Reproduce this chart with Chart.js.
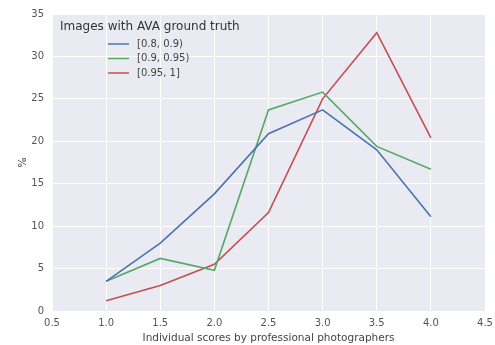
<!DOCTYPE html>
<html><head><meta charset="utf-8">
<script src="https://cdn.jsdelivr.net/npm/chart.js@4/dist/chart.umd.min.js"></script>
<style>html,body{margin:0;padding:0;background:#fff}#wrap{width:495px;height:345px}</style>
</head><body><div id="wrap"><canvas id="c" width="495" height="345"></canvas></div>
<script>
const scores = [1.0, 1.5, 2.0, 2.5, 3.0, 3.5, 4.0];
const seriesLabels = ['[0.8, 0.9)', '[0.9, 0.95)', '[0.95, 1]'];
const blueVals = [3.5, 8.0, 13.8, 20.9, 23.7, 19.0, 11.1];
const greenVals = [3.5, 6.2, 4.8, 23.7, 25.8, 19.4, 16.7];
const redVals = [1.2, 3.0, 5.5, 11.6, 25.0, 32.8, 20.4];
const legendTitle = 'Images with AVA ground truth';
const xTitle = 'Individual scores by professional photographers';
const yTitle = '%';

const colors = ['#4C72B0', '#55A868', '#C44E52'];
const FONT = 'DejaVu Sans';
const toPts = v => scores.map((x, i) => ({x: x, y: v[i]}));

const bgPlugin = {
  id: 'bg',
  beforeDraw(chart) {
    const {ctx, chartArea: a} = chart;
    ctx.save(); ctx.fillStyle = '#EAEAF2';
    ctx.fillRect(a.left, a.top, a.right - a.left, a.bottom - a.top);
    ctx.restore();
  }
};
const legendPlugin = {
  id: 'customLegend',
  afterDatasetsDraw(chart) {
    const {ctx, chartArea: a} = chart;
    ctx.save();
    ctx.fillStyle = '#333';
    ctx.font = '12px ' + FONT;
    ctx.textBaseline = 'middle';
    ctx.fillText(legendTitle, a.left + 8, a.top + 13);
    ctx.font = '10px ' + FONT;
    chart.data.datasets.forEach((ds, i) => {
      const y = a.top + 30 + i * 14.5;
      ctx.strokeStyle = ds.borderColor; ctx.lineWidth = 1.5;
      ctx.beginPath(); ctx.moveTo(a.left + 56, y); ctx.lineTo(a.left + 77, y); ctx.stroke();
      ctx.fillStyle = '#444';
      ctx.fillText(ds.label, a.left + 85, y);
    });
    ctx.restore();
  }
};

new Chart(document.getElementById('c'), {
  type: 'line',
  data: {
    datasets: [blueVals, greenVals, redVals].map((v, i) => ({
      label: seriesLabels[i], data: toPts(v), borderColor: colors[i],
      backgroundColor: colors[i], borderWidth: 1.6, pointRadius: 0, tension: 0, fill: false
    }))
  },
  options: {
    responsive: false, animation: false,
    layout: {padding: {top: 12, right: 0, left: 0, bottom: 0}},
    plugins: {legend: {display: false}, tooltip: {enabled: false}},
    scales: {
      x: {
        type: 'linear', min: 0.5, max: 4.5,
        border: {display: false},
        grid: {color: '#ffffff', lineWidth: 1, drawTicks: false},
        ticks: {stepSize: 0.5, padding: 6, color: '#555', font: {family: FONT, size: 10},
          callback: v => Number(v).toFixed(1)},
        title: {display: true, text: xTitle, color: '#444', font: {family: FONT, size: 10.5}, padding: {top: 2, bottom: 0}},
        afterFit(s) { s.height = 34; s.paddingRight = 10; }
      },
      y: {
        min: 0, max: 35,
        border: {display: false},
        grid: {color: '#ffffff', lineWidth: 1, drawTicks: false},
        ticks: {stepSize: 5, padding: 8, color: '#555', font: {family: FONT, size: 10}},
        title: {display: true, text: yTitle, color: '#444', font: {family: FONT, size: 10.5}, padding: {top: 17, bottom: 4}},
        afterFit(s) { s.width = 52; }
      }
    }
  },
  plugins: [bgPlugin, legendPlugin]
});
</script></body></html>
